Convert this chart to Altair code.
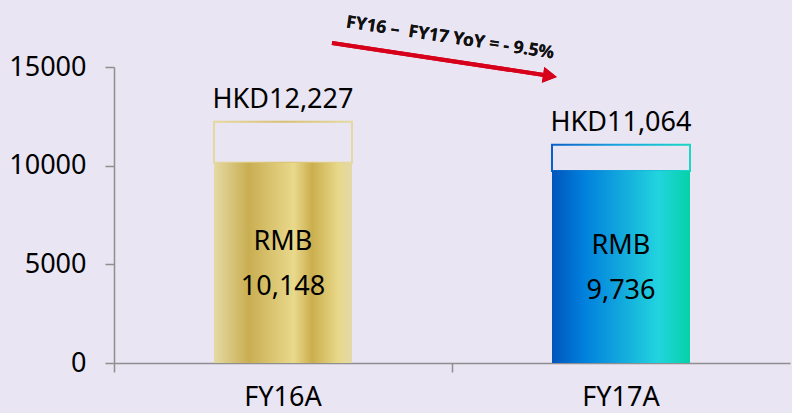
import altair as alt
import pandas as pd

# Revenue per fiscal year, in RMB and HKD (millions)
periods = ["FY16A", "FY17A"]
rmb_values = [10148, 9736]
hkd_values = [12227, 11064]
yoy_label = "FY16 \u2013\u00a0 FY17 YoY = - 9.5%"
y_ticks = [0, 5000, 10000, 15000]

df = pd.DataFrame({"period": periods, "rmb": rmb_values, "hkd": hkd_values})

FONT = "Noto Sans"
BG = "#E9E5F3"
AXIS_GREY = "#8F8F8F"

gold_fill = alt.LinearGradient(
    gradient="linear", x1=0, x2=1, y1=0, y2=0,
    stops=[
        alt.GradientStop(color="#E5DAA4", offset=0.0),
        alt.GradientStop(color="#C9AE52", offset=0.25),
        alt.GradientStop(color="#E9D98C", offset=0.58),
        alt.GradientStop(color="#CBAE4E", offset=0.71),
        alt.GradientStop(color="#E8D889", offset=0.9),
        alt.GradientStop(color="#E3D9A8", offset=1.0),
    ],
)
blue_fill = alt.LinearGradient(
    gradient="linear", x1=0, x2=1, y1=0, y2=0,
    stops=[
        alt.GradientStop(color="#0055BB", offset=0.0),
        alt.GradientStop(color="#0080DD", offset=0.23),
        alt.GradientStop(color="#0FA0DD", offset=0.45),
        alt.GradientStop(color="#22D4DE", offset=0.77),
        alt.GradientStop(color="#05D2A8", offset=1.0),
    ],
)
gold_stroke = alt.LinearGradient(
    gradient="linear", x1=0, x2=1, y1=0, y2=0,
    stops=[
        alt.GradientStop(color="#E6D9A0", offset=0.0),
        alt.GradientStop(color="#D8C070", offset=0.5),
        alt.GradientStop(color="#E6D9A0", offset=1.0),
    ],
)
blue_stroke = alt.LinearGradient(
    gradient="linear", x1=0, x2=1, y1=0, y2=0,
    stops=[
        alt.GradientStop(color="#0A5FC8", offset=0.0),
        alt.GradientStop(color="#19A8E0", offset=0.5),
        alt.GradientStop(color="#19D6C6", offset=1.0),
    ],
)

x_enc = alt.X(
    "period:N",
    sort=periods,
    title=None,
    scale=alt.Scale(paddingInner=0, paddingOuter=0),
    axis=alt.Axis(
        bandPosition=0, labelAngle=0, labelFont=FONT, labelFontSize=27,
        labelColor="black", labelPadding=12, tickSize=9, tickColor=AXIS_GREY,
        tickWidth=1.5, domainColor=AXIS_GREY, domainWidth=1.5, grid=False,
    ),
)
y_scale = alt.Scale(domain=[0, 15000], nice=False)
y_axis = alt.Axis(
    values=y_ticks, format="d", labelFont=FONT, labelFontSize=27,
    labelColor="black", labelPadding=19, tickSize=9, tickColor=AXIS_GREY,
    tickWidth=1.5, domainColor=AXIS_GREY, domainWidth=1.5, grid=False,
)

base = alt.Chart(df)
bar_w = {"band": 138 / 338}

layers = []
for name, fill, stroke in [("FY16A", gold_fill, gold_stroke), ("FY17A", blue_fill, blue_stroke)]:
    sub = base.transform_filter(alt.datum.period == name)
    # HKD outline sitting on top of the RMB bar
    outline = sub.mark_bar(width=bar_w, fill=BG, stroke=stroke, strokeWidth=2).encode(
        x=x_enc,
        y=alt.Y("rmb:Q", scale=y_scale, axis=y_axis, title=None),
        y2="hkd:Q",
    )
    bar = sub.mark_bar(width=bar_w, fill=fill).encode(
        x=x_enc,
        y=alt.Y("rmb:Q", scale=y_scale, axis=y_axis, title=None),
    )
    layers += [outline, bar]

hkd_text = base.transform_calculate(
    label="'HKD' + format(datum.hkd, ',')"
).mark_text(font=FONT, fontSize=27, color="black", baseline="alphabetic", dy=-14).encode(
    x=x_enc, y=alt.Y("hkd:Q", scale=y_scale), text="label:N"
)

# Two-line RMB label centred in each bar
mid_base = base.transform_calculate(
    mid="datum.rmb / 2", amount="format(datum.rmb, ',')"
)
rmb_word = mid_base.mark_text(
    text="RMB", font=FONT, fontSize=27, color="black", baseline="middle", dy=-21
).encode(x=x_enc, y=alt.Y("mid:Q", scale=y_scale))
rmb_amount = mid_base.mark_text(
    font=FONT, fontSize=27, color="black", baseline="middle", dy=24
).encode(x=x_enc, y=alt.Y("mid:Q", scale=y_scale), text="amount:N")

# YoY arrow and caption above the plot
arrow_line = base.mark_rule(color="#D7001A", strokeWidth=4).encode(
    x=alt.value(218), x2=alt.value(430), y=alt.value(-24), y2=alt.value(8)
)
arrow_head = base.mark_point(
    shape="triangle-right", filled=True, color="#D7001A", size=260, angle=8.6, opacity=1
).encode(x=alt.value(436), y=alt.value(8.9))
arrow_text = base.mark_text(
    text=yoy_label, font=FONT, fontSize=17.5, fontWeight="bold", color="#111111",
    angle=8.5, align="center", baseline="middle",
).encode(x=alt.value(336), y=alt.value(-29))

chart = alt.layer(
    *layers, hkd_text, rmb_word, rmb_amount, arrow_line, arrow_head, arrow_text
).properties(
    width=676,
    height=296,
    background=BG,
    padding={"left": 114, "top": 67, "right": 2, "bottom": 50},
    autosize=alt.AutoSizeParams(type="none"),
).configure_view(stroke=None)

chart.save("out.html", embed_options={"renderer": "svg", "actions": False})
